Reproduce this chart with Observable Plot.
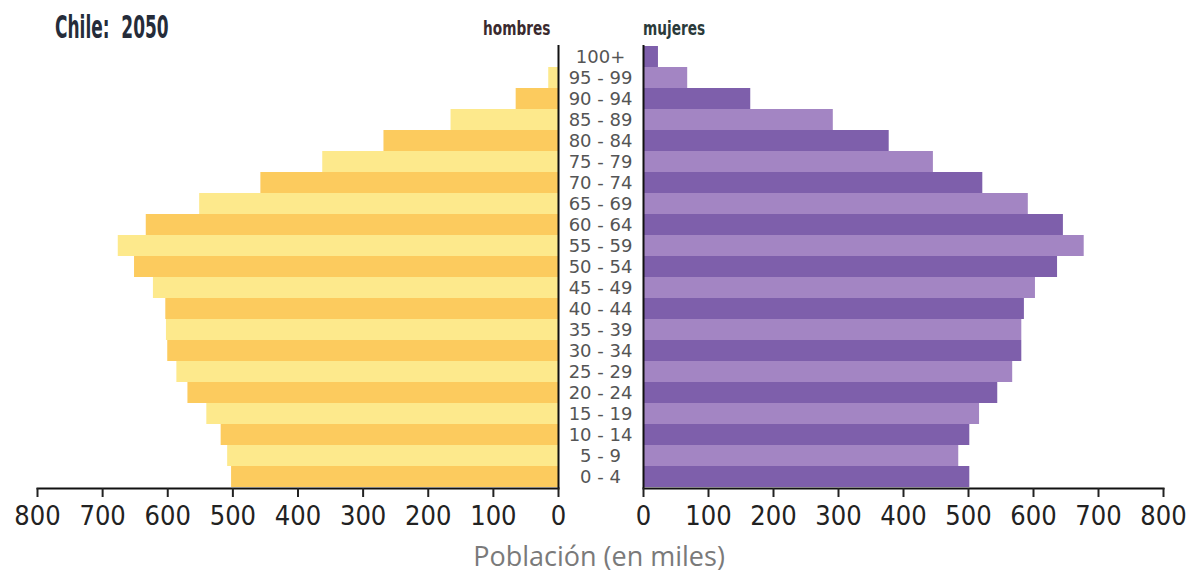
<!DOCTYPE html>
<html><head><meta charset="utf-8">
<script src="https://cdn.jsdelivr.net/npm/d3@7"></script>
<script src="https://cdn.jsdelivr.net/npm/@observablehq/plot@0.6"></script>
<style>
body{margin:0;background:#fff;width:1198px;height:579px;overflow:hidden;position:relative;font-family:"DejaVu Sans Condensed",sans-serif;}
.abs{position:absolute;white-space:nowrap;line-height:1;}
#title{left:55px;top:11px;font-size:32px;font-weight:bold;color:#252c3a;transform:scaleX(0.59);transform-origin:left top;}
#hom{left:483px;top:18px;font-size:20px;font-weight:bold;color:#3a2a2e;transform:scaleX(0.76);transform-origin:left top;}
#muj{left:643px;top:18px;font-size:20px;font-weight:bold;color:#2a3a3a;transform:scaleX(0.76);transform-origin:left top;}
#xlab{left:0;width:1198px;text-align:center;top:542px;font-size:27px;color:#7a7a7a;font-family:"Open Sans",sans-serif;}
#left{left:0;top:0;}
#right{left:558px;top:0;}
</style></head>
<body>
<div id="title" class="abs">Chile:&nbsp; 2050</div>
<div id="hom" class="abs">hombres</div>
<div id="muj" class="abs">mujeres</div>
<div id="left" class="abs"></div>
<div id="right" class="abs"></div>
<div id="xlab" class="abs">Población (en miles)</div>
<script>
const ages = ["0 - 4","5 - 9","10 - 14","15 - 19","20 - 24","25 - 29","30 - 34","35 - 39","40 - 44","45 - 49","50 - 54","55 - 59","60 - 64","65 - 69","70 - 74","75 - 79","80 - 84","85 - 89","90 - 94","95 - 99","100+"];
const hombres = [502,508,518,540,569,586,600,602,603,622,651,676,633,551,457,362,268,165,65,15,0];
const mujeres = [502,485,502,517,545,568,582,582,586,603,637,678,646,592,522,446,378,292,165,68,23];
const xTicks = [0,100,200,300,400,500,600,700,800];

const H = 540, MT = 45, MB = 52;
const yDomain = ages.slice().reverse();
const fontStack = '"DejaVu Sans Condensed",sans-serif';

const menData = ages.map((a,i)=>({age:a, value:hombres[i], fill: i%2===0 ? "#fccb5e" : "#fde98c"}));
const womenData = ages.map((a,i)=>({age:a, value:mujeres[i], fill: i%2===0 ? "#7e5fab" : "#a385c3"}));

const commonStyle = {fontFamily: fontStack, fontSize: "27px", color: "#222", background: "transparent", overflow: "visible"};

const left = Plot.plot({
  width: 580, height: H,
  marginLeft: 37, marginRight: 22, marginTop: MT, marginBottom: MB,
  style: commonStyle,
  x: {domain:[0,800], reverse:true, label: null},
  y: {domain: yDomain, padding: 0, axis: null},
  color: {type: "identity"},
  marks: [
    Plot.barX(menData, {x: "value", y: "age", fill: "fill", inset: 0}),
    Plot.ruleX([0], {stroke: "#111", strokeWidth: 2}),
    Plot.frame({anchor: "bottom", stroke: "#111", strokeWidth: 2}),
    Plot.axisX({ticks: xTicks, tickSize: 9, tickPadding: 8, strokeWidth: 2, label: null, fill: "#222"})
  ]
});
document.getElementById("left").appendChild(left);

const right = Plot.plot({
  width: 640, height: H,
  marginLeft: 85, marginRight: 35, marginTop: MT, marginBottom: MB,
  style: commonStyle,
  x: {domain:[0,800], label: null},
  y: {domain: yDomain, padding: 0, axis: null},
  color: {type: "identity"},
  marks: [
    Plot.barX(womenData, {x: "value", y: "age", fill: "fill", inset: 0}),
    Plot.ruleX([0], {stroke: "#111", strokeWidth: 2}),
    Plot.frame({anchor: "bottom", stroke: "#111", strokeWidth: 2}),
    Plot.axisX({ticks: xTicks, tickSize: 9, tickPadding: 8, strokeWidth: 2, label: null, fill: "#222"}),
    Plot.text(ages, {y: d => d, text: d => d, frameAnchor: "left", dx: -43, textAnchor: "middle",
      fontSize: 18, fontFamily: '"DejaVu Sans",sans-serif', fill: "#555", letterSpacing: 1})
  ]
});
document.getElementById("right").appendChild(right);
</script>
</body></html>
